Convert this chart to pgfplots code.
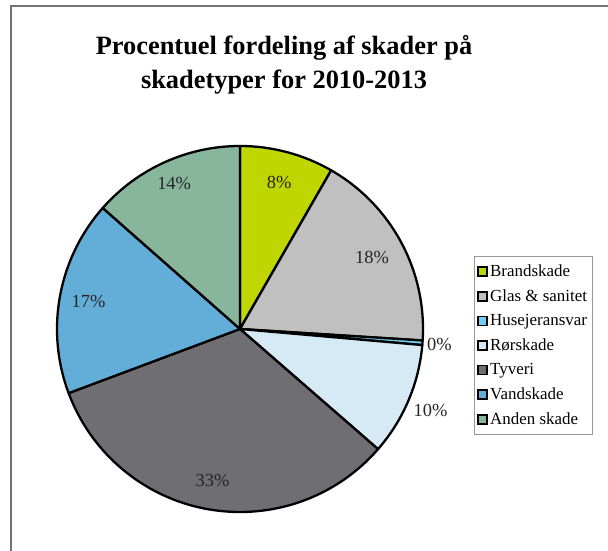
\documentclass[border=0pt]{standalone}
\usepackage{fontspec}
\setmainfont{Liberation Serif}
\usepackage{pgfplots}
\usepackage{pgfplotstable}
\pgfplotsset{compat=1.18}
\definecolor{pie0}{RGB}{192,214,0}
\definecolor{pie1}{RGB}{192,192,192}
\definecolor{pie2}{RGB}{110,208,240}
\definecolor{pie3}{RGB}{213,234,245}
\definecolor{pie4}{RGB}{110,110,115}
\definecolor{pie5}{RGB}{99,174,216}
\definecolor{pie6}{RGB}{136,182,157}
\pgfplotstableread[col sep=comma]{
name,val,lr
Brandskade,8.3,152
Glas \& sanitet,17.7,150
Husejeransvar,0.4,200
Rørskade,10.0,207
Tyveri,32.9,154
Vandskade,17.2,154
Anden skade,13.5,160
}\piedata
\begin{document}
\begin{tikzpicture}
\begin{axis}[
  scale only axis, x=1bp, y=1bp,
  xmin=0, xmax=608, ymin=0, ymax=551,
  hide axis, clip=false,
  legend style={at={(axis cs:474,295)}, anchor=north west, draw=gray!80, line width=0.8pt,
    font=\fontsize{17}{18}\selectfont, row sep=7.6bp, inner xsep=3bp, inner ysep=6.5bp,
    cells={anchor=west, inner xsep=1.5bp}},
  legend image code/.code={\filldraw[#1, draw=black, line width=1.8pt] (5bp,-4.5bp) rectangle (14bp,4.5bp);},
]
\path (axis cs:0,0) rectangle (axis cs:608,551);
% frame of the chart area
\draw[overlay, gray!90!black, line width=1.3pt] (axis cs:11,-60) -- (axis cs:11,545) -- (axis cs:700,545);
\node[overlay, anchor=base, font=\fontsize{17}{20}\selectfont] at (axis cs:47,556) {g};
% title
\node[align=center, font=\bfseries\fontsize{26.5}{34}\selectfont] at (axis cs:284,486)
  {Procentuel fordeling af skader på\\skadetyper for 2010-2013};
% pie
\pgfplotstablegetrowsof{\piedata}
\pgfmathtruncatemacro\N{\pgfplotsretval-1}
\gdef\cum{0}
\pgfplotsforeachungrouped \i in {0,...,\N}{%
  \pgfplotstablegetelem{\i}{val}\of\piedata \let\v\pgfplotsretval
  \pgfplotstablegetelem{\i}{lr}\of\piedata \let\lr\pgfplotsretval
  \pgfmathsetmacro\a{90-3.6*\cum}%
  \pgfmathsetmacro\b{90-3.6*(\cum+\v)}%
  \pgfmathsetmacro\m{(\a+\b)/2}%
  \pgfmathsetmacro\lx{240+\lr*cos(\m)}%
  \pgfmathsetmacro\ly{222+\lr*sin(\m)}%
  \pgfmathtruncatemacro\pc{round(\v)}%
  \pgfmathsetmacro\newcum{\cum+\v}\global\let\cum\newcum
  \edef\temp{\noexpand\filldraw[fill=pie\i, draw=black, line width=2.3bp, line join=round]
     (axis cs:240,222) -- ++(\a:183bp) arc[start angle=\a, end angle=\b, radius=183bp] -- cycle;
     \noexpand\node[font=\noexpand\fontsize{18.5}{20}\noexpand\selectfont, text=black!85] at (axis cs:\lx,\ly) {\pc\noexpand\%};}%
  \temp
}
\addlegendimage{fill=pie0}\addlegendentry{Brandskade}
\addlegendimage{fill=pie1}\addlegendentry{Glas \& sanitet}
\addlegendimage{fill=pie2}\addlegendentry{Husejeransvar}
\addlegendimage{fill=pie3}\addlegendentry{Rørskade}
\addlegendimage{fill=pie4}\addlegendentry{Tyveri}
\addlegendimage{fill=pie5}\addlegendentry{Vandskade}
\addlegendimage{fill=pie6}\addlegendentry{Anden skade}
\end{axis}
\end{tikzpicture}
\end{document}
